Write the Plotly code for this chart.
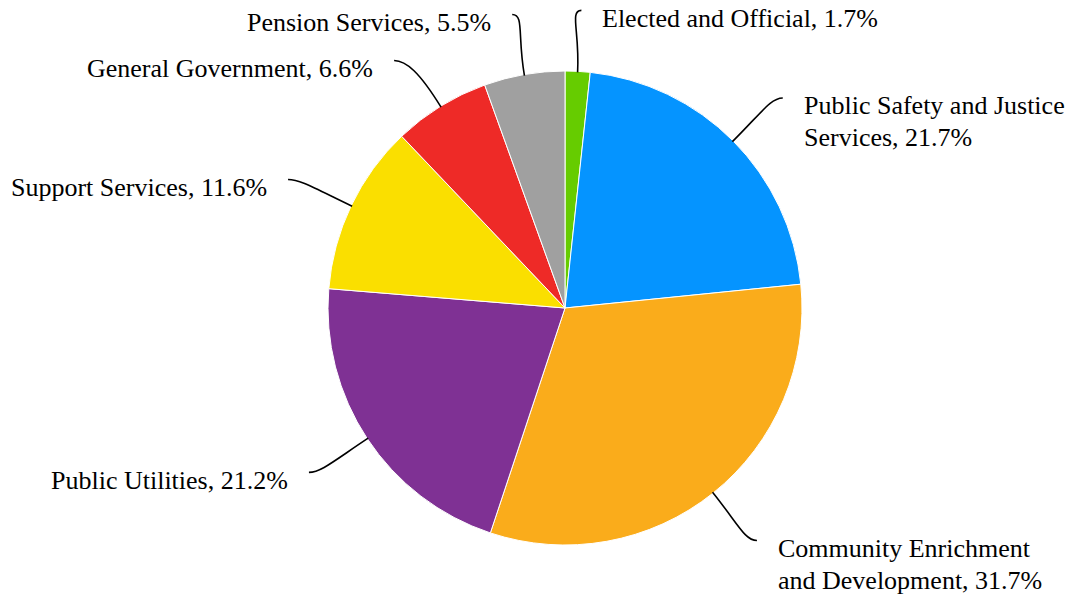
import math
import plotly.graph_objects as go

# Budget shares by service area, listed clockwise from 12 o'clock
categories = [
    "Elected and Official",
    "Public Safety and Justice<br>Services",
    "Community Enrichment<br>and Development",
    "Public Utilities",
    "Support Services",
    "General Government",
    "Pension Services",
]
shares = [1.7, 21.7, 31.7, 21.2, 11.6, 6.6, 5.5]
colors = ["#66CC00", "#0594FF", "#FAAC1B", "#7F3194", "#FADF00", "#EE2A27", "#A0A0A0"]

# Canvas and pie geometry (pixels)
W, H = 1072, 597
CX, CY, R = 565, 308, 237
RO_X, RO_Y = 307, 298  # connector end ring (slightly wider than tall)
TOP_LIMIT = 10         # connectors never end above this y
MIN_SEP = 46           # minimum vertical spacing between labels on one side
GAP = 20               # space between connector end and label text
FONT_SIZE = 26
LINE_H = 32            # spacing between wrapped label lines
FONT = "Liberation Serif"


def fx(x):
    return x / W


def fy(y):
    return 1 - y / H


fig = go.Figure(
    go.Pie(
        labels=[c.replace("<br>", " ") for c in categories],
        values=shares,
        sort=False,
        direction="clockwise",
        rotation=0,
        marker=dict(colors=colors, line=dict(color="white", width=1)),
        textinfo="none",
        hoverinfo="skip",
        showlegend=False,
        domain=dict(x=[fx(CX - R), fx(CX + R)], y=[fy(CY + R), fy(CY - R)]),
    )
)

# Natural connector end for each slice at its mid-angle
total = sum(shares)
cum = 0.0
items = []
for name, v in zip(categories, shares):
    mid = (cum + v / 2) / total * 2 * math.pi
    cum += v
    s, c = math.sin(mid), math.cos(mid)
    items.append(dict(
        name=name, v=v, s=s, c=c, side=1 if s >= 0 else -1,
        ex=CX + RO_X * s, ey=max(CY - RO_Y * c, TOP_LIMIT),
    ))

# Push labels down on each side so they do not overlap
for side in (1, -1):
    group = sorted([it for it in items if it["side"] == side], key=lambda it: it["ey"])
    prev = None
    for it in group:
        if prev is not None:
            need = prev["ey"] + MIN_SEP + (prev["name"].count("<br>")) * LINE_H
            if it["ey"] < need:
                it["ey"] = need
                dy = (it["ey"] - CY) / RO_Y
                it["ex"] = CX + side * RO_X * math.sqrt(max(0.0, 1 - dy * dy))
        prev = it

shapes, annotations = [], []
for it in items:
    s, c, side = it["s"], it["c"], it["side"]
    ex, ey = it["ex"], it["ey"]
    x0, y0 = CX + (R - 1) * s, CY - (R - 1) * c
    c1x, c1y = CX + (R + 40) * s, CY - (R + 40) * c
    c2x, c2y = ex - side * 12, ey

    path = (
        f"M {fx(x0)},{fy(y0)} "
        f"C {fx(c1x)},{fy(c1y)} {fx(c2x)},{fy(c2y)} {fx(ex)},{fy(ey)}"
    )
    shapes.append(
        dict(type="path", path=path, xref="paper", yref="paper",
             line=dict(color="#000000", width=1.6))
    )

    # each wrapped line is its own text so the line spacing can be set
    lines = f"{it['name']}, {it['v']}%".split("<br>")
    for i, line in enumerate(lines):
        annotations.append(
            dict(
                text=line,
                x=fx(ex + side * GAP),
                y=fy(ey + 8 + i * LINE_H),
                xref="paper",
                yref="paper",
                xanchor="left" if side > 0 else "right",
                yanchor="middle",
                showarrow=False,
                borderpad=0,
                font=dict(family=FONT, size=FONT_SIZE, color="#000000"),
            )
        )

fig.update_layout(
    width=W,
    height=H,
    margin=dict(l=0, r=0, t=0, b=0),
    paper_bgcolor="white",
    plot_bgcolor="white",
    shapes=shapes,
    annotations=annotations,
)

fig.write_html("out.html")
